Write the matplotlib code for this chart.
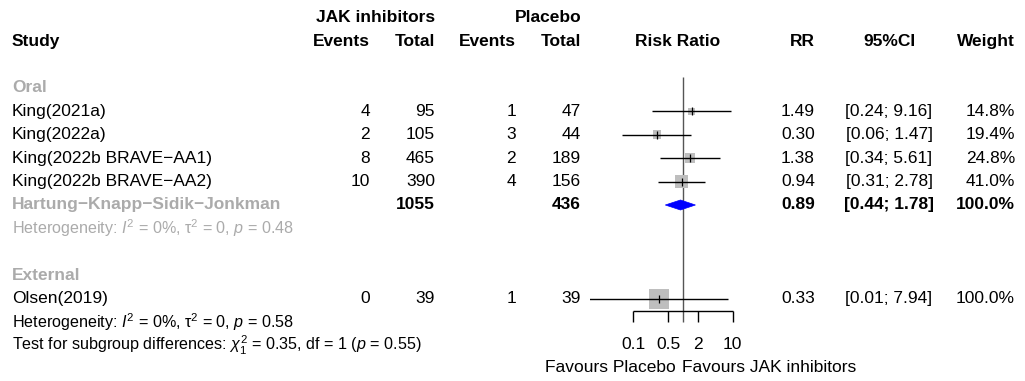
import numpy as np
import matplotlib
matplotlib.use("Agg")
import matplotlib.pyplot as plt
from matplotlib.patches import Polygon

plt.rcParams["font.family"] = ["Liberation Sans", "DejaVu Sans"]
plt.rcParams["mathtext.fontset"] = "custom"
plt.rcParams["mathtext.rm"] = "Liberation Sans"
plt.rcParams["mathtext.it"] = "Liberation Sans:italic"
plt.rcParams["mathtext.bf"] = "Liberation Sans:bold"

# === data ===
oral_studies = ["King(2021a)", "King(2022a)", "King(2022b BRAVE\u2212AA1)", "King(2022b BRAVE\u2212AA2)"]
oral_ev_jak = [4, 2, 8, 10]
oral_n_jak = [95, 105, 465, 390]
oral_ev_pbo = [1, 3, 2, 4]
oral_n_pbo = [47, 44, 189, 156]
oral_rr = [1.49, 0.30, 1.38, 0.94]
oral_lo = [0.24, 0.06, 0.34, 0.31]
oral_hi = [9.16, 1.47, 5.61, 2.78]
oral_w = [14.8, 19.4, 24.8, 41.0]

pooled_rr, pooled_lo, pooled_hi = 0.89, 0.44, 1.78
pooled_n_jak, pooled_n_pbo = 1055, 436

ext_studies = ["Olsen(2019)"]
ext_ev_jak = [0]
ext_n_jak = [39]
ext_ev_pbo = [1]
ext_n_pbo = [39]
ext_rr = [0.33]
ext_lo = [0.01]
ext_hi = [7.94]
ext_w = [100.0]

ticks = [0.1, 0.5, 2, 10]
tick_labels = ["0.1", "0.5", "2", "10"]

# === layout (pixels / row units) ===
W, H = 1025, 381
row0_px, row_px = 88, 23.4
ylim = ((H - row0_px) / row_px, -row0_px / row_px)
FS = 12.5
FS_STAT = 11.6
GREY = "#ABABAB"

fig = plt.figure(figsize=(W / 100, H / 100), dpi=100)
ax = fig.add_axes([0, 0, 1, 1])
ax.set_xlim(0, W)
ax.set_ylim(*ylim)
ax.axis("off")

# forest panel
fx0, fx1 = 590, 740
fa = fig.add_axes([fx0 / W, 0, (fx1 - fx0) / W, 1])
fa.set_xscale("log")
centre_px = 683
decade_px = 49.7
fa.set_xlim(10 ** ((fx0 - centre_px) / decade_px), 10 ** ((fx1 - centre_px) / decade_px))
fa.set_ylim(*ylim)
fa.axis("off")

col_study = 12
col_ev_jak, col_n_jak = 370, 435
col_ev_pbo, col_n_pbo = 516, 581
col_rr, col_ci, col_w = 815, 889, 1015


def txt(x, y, s, ha="right", bold=False, color="black", size=FS):
    ax.text(x, y, s, ha=ha, va="center", fontsize=size,
            fontweight="bold" if bold else "normal", color=color)


# headers
txt(col_n_jak, -3, "JAK inhibitors", bold=True)
txt(col_n_pbo, -3, "Placebo", bold=True)
txt(col_study, -2, "Study", ha="left", bold=True)
txt(col_ev_jak, -2, "Events", bold=True)
txt(col_n_jak, -2, "Total", bold=True)
txt(col_ev_pbo, -2, "Events", bold=True)
txt(col_n_pbo, -2, "Total", bold=True)
txt(678, -2, "Risk Ratio", ha="center", bold=True)
txt(col_rr, -2, "RR", bold=True)
txt(col_ci, -2, "95%CI", ha="center", bold=True)
txt(col_w, -2, "Weight", bold=True)


def study_rows(start, names, e1, n1, e2, n2, rr, lo, hi, w):
    for i, name in enumerate(names):
        y = start + i
        txt(col_study, y, name, ha="left")
        txt(col_ev_jak, y, str(e1[i]))
        txt(col_n_jak, y, str(n1[i]))
        txt(col_ev_pbo, y, str(e2[i]))
        txt(col_n_pbo, y, str(n2[i]))
        txt(col_rr, y, f"{rr[i]:.2f}")
        txt(col_ci, y, f"[{lo[i]:.2f}; {hi[i]:.2f}]", ha="center")
        txt(col_w, y, f"{w[i]:.1f}%")
        fa.hlines(y, lo[i], hi[i], color="black", lw=1.0, zorder=3)
        fa.scatter([rr[i]], [y], marker="s", s=2.07 * w[i], color="#BEBEBE",
                   edgecolors="none", zorder=2)
        fa.scatter([rr[i]], [y], marker="|", s=30, color="black", lw=0.9, zorder=4)


# Oral subgroup
txt(col_study, 0, "Oral", ha="left", bold=True, color=GREY)
study_rows(1, oral_studies, oral_ev_jak, oral_n_jak, oral_ev_pbo, oral_n_pbo,
           oral_rr, oral_lo, oral_hi, oral_w)
txt(col_study, 5, "Hartung\u2212Knapp\u2212Sidik\u2212Jonkman", ha="left", bold=True, color=GREY)
txt(col_n_jak, 5, str(pooled_n_jak), bold=True)
txt(col_n_pbo, 5, str(pooled_n_pbo), bold=True)
txt(col_rr, 5, f"{pooled_rr:.2f}", bold=True)
txt(col_ci, 5, f"[{pooled_lo:.2f}; {pooled_hi:.2f}]", ha="center", bold=True)
txt(col_w, 5, "100.0%", bold=True)
h = 5 / row_px
fa.add_patch(Polygon([(pooled_lo, 5), (pooled_rr, 5 - h), (pooled_hi, 5), (pooled_rr, 5 + h)],
                     closed=True, facecolor="#0000FF", edgecolor="#0000FF", lw=0.5, zorder=3))
txt(col_study, 6, "Heterogeneity: $I^2$ = 0%, \u03c4$^2$ = 0, $p$ = 0.48", ha="left",
    color=GREY, size=FS_STAT)

# External subgroup
txt(col_study, 8, "External", ha="left", bold=True, color=GREY)
study_rows(9, ext_studies, ext_ev_jak, ext_n_jak, ext_ev_pbo, ext_n_pbo,
           ext_rr, ext_lo, ext_hi, ext_w)
txt(col_study, 10, "Heterogeneity: $I^2$ = 0%, \u03c4$^2$ = 0, $p$ = 0.58", ha="left",
    size=FS_STAT)
txt(col_study, 11, r"Test for subgroup differences: $\chi^2_1$ = 0.35, df = 1 ($p$ = 0.55)",
    ha="left", size=FS_STAT)

# reference line and axis
axis_y, tick_y = 9.53, 10.0
fa.vlines(1, -0.47, tick_y, color="#555555", lw=1.0, zorder=1)
fa.hlines(axis_y, ticks[0], ticks[-1], color="black", lw=1.0)
fa.vlines(ticks, axis_y, tick_y, color="black", lw=1.0)
for t, lab in zip(ticks, tick_labels):
    fa.text(t, 10.95, lab, ha="center", va="center", fontsize=FS)

txt(676, 11.95, "Favours Placebo", ha="right")
txt(682, 11.95, "Favours JAK inhibitors", ha="left")

fig.savefig("out.png", dpi=100)
